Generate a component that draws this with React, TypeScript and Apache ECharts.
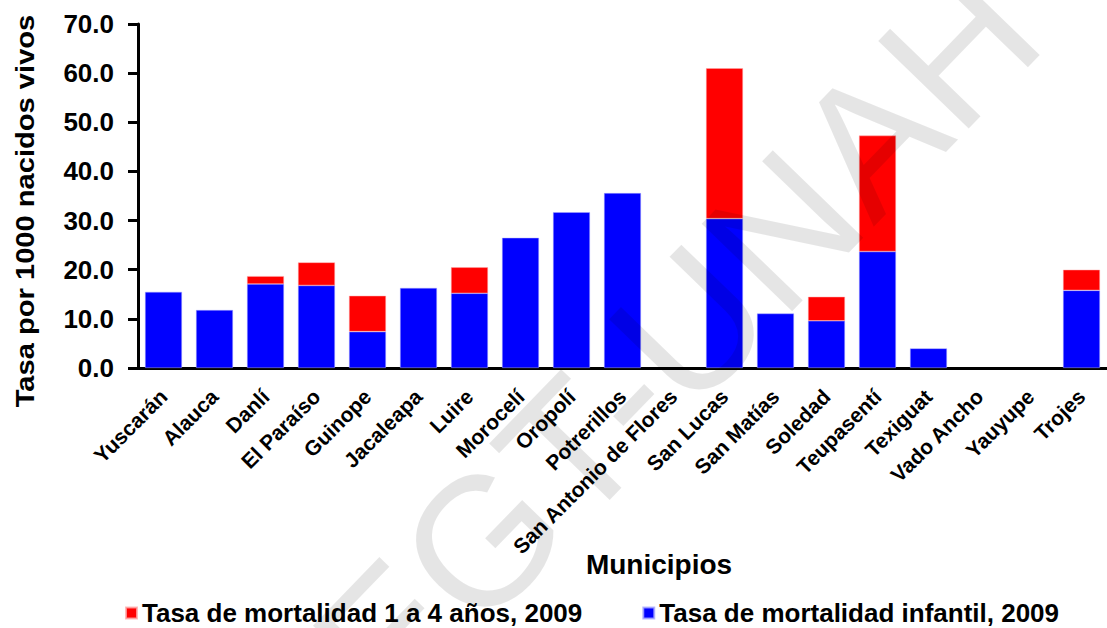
import React, { useEffect, useRef } from "react";
import * as echarts from "echarts";

const categories = [
  "Yuscarán", "Alauca", "Danlí", "El Paraíso", "Guinope", "Jacaleapa", "Luire",
  "Morocelí", "Oropolí", "Potrerillos", "San Antonio de Flores", "San Lucas",
  "San Matías", "Soledad", "Teupasentí", "Texiguat", "Vado Ancho", "Yauyupe", "Trojes",
];
const infantil = [15.5, 11.8, 17.1, 16.8, 7.4, 16.3, 15.2, 26.5, 31.7, 35.6, 0, 30.4, 11.1, 9.6, 23.7, 4.0, 0, 0, 15.8];
const unoACuatro = [0, 0, 1.6, 4.7, 7.3, 0, 5.3, 0, 0, 0, 0, 30.6, 0, 4.9, 23.6, 0, 0, 0, 4.2];
const seriesNames = ["Tasa de mortalidad 1 a 4 años, 2009", "Tasa de mortalidad infantil, 2009"];
const yTitle = "Tasa por 1000 nacidos vivos";
const xTitle = "Municipios";
const watermark = "EGT-UNAH";

const FONT = "Liberation Sans, Arial, sans-serif";

const noZero = (arr: number[]) => arr.map((v) => (v === 0 ? "-" : v));

export default function App() {
  const ref = useRef<HTMLDivElement>(null);
  useEffect(() => {
    document.body.style.margin = "0";
    if (!ref.current) return;
    const chart = echarts.init(ref.current, null, { renderer: "svg" });
    chart.setOption({
      animation: false,
      backgroundColor: "#ffffff",
      grid: { left: 138, right: 0, top: 24, bottom: 260, containLabel: false },
      legend: {
        data: [seriesNames[0], seriesNames[1]],
        left: 120,
        top: 595,
        itemWidth: 11,
        itemHeight: 11,
        itemGap: 60,
        icon: "rect",
        textStyle: { fontFamily: FONT, fontWeight: "bold", fontSize: 26, color: "#000" },
      },
      xAxis: {
        type: "category",
        data: categories,
        axisLine: { show: true, lineStyle: { color: "#000", width: 3 } },
        axisTick: { show: false },
        axisLabel: {
          rotate: 45,
          interval: 0,
          margin: 25,
          fontFamily: FONT,
          fontWeight: "bold",
          fontSize: 21,
          color: "#000",
        },
      },
      yAxis: {
        type: "value",
        min: 0,
        max: 70,
        interval: 10,
        splitLine: { show: false },
        axisLine: { show: true, lineStyle: { color: "#000", width: 3 } },
        axisTick: { show: true, length: 10, lineStyle: { color: "#000", width: 3 } },
        axisLabel: {
          margin: 24,
          formatter: (v: number) => v.toFixed(1),
          fontFamily: FONT,
          fontWeight: "bold",
          fontSize: 26,
          color: "#000",
        },
      },
      series: [
        {
          name: seriesNames[1],
          type: "bar",
          stack: "total",
          data: noZero(infantil),
          barWidth: 37,
          itemStyle: { color: "#0000FF", borderColor: "rgba(170,170,255,0.8)", borderWidth: 0.6 },
        },
        {
          name: seriesNames[0],
          type: "bar",
          stack: "total",
          data: noZero(unoACuatro),
          barWidth: 37,
          itemStyle: { color: "#FF0000", borderColor: "rgba(255,170,170,0.8)", borderWidth: 0.6 },
        },
      ],
      graphic: [
        {
          type: "text",
          x: 25,
          y: 211,
          rotation: Math.PI / 2,
          scaleX: 1.12,
          style: {
            text: yTitle,
            fontFamily: FONT,
            fontWeight: "bold",
            fontSize: 26,
            fill: "#000",
            textAlign: "center",
            textVerticalAlign: "middle",
          },
        },
        {
          type: "text",
          x: 659,
          y: 564,
          style: {
            text: xTitle,
            fontFamily: FONT,
            fontWeight: "bold",
            fontSize: 28,
            fill: "#000",
            textAlign: "center",
            textVerticalAlign: "middle",
          },
        },
        {
          type: "text",
          x: 676,
          y: 340,
          rotation: (46 * Math.PI) / 180,
          z: 100,
          silent: true,
          style: {
            text: watermark,
            fontFamily: FONT,
            fontWeight: "normal",
            fontSize: 183,
            fill: "rgba(0,0,0,0.1)",
            textAlign: "center",
            textVerticalAlign: "middle",
          },
        },
      ],
    });
    return () => chart.dispose();
  }, []);
  return <div ref={ref} style={{ width: 1107, height: 628 }} />;
}
